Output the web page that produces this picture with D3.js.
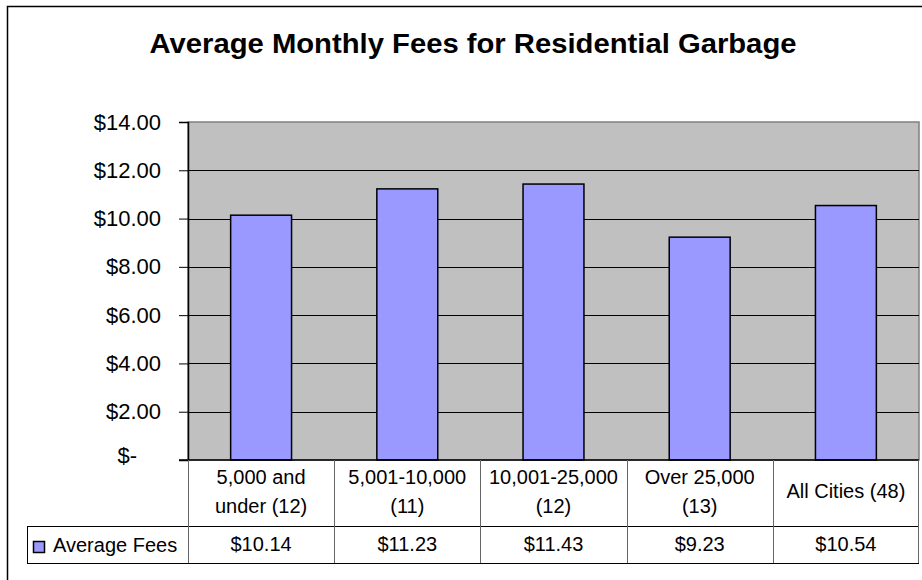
<!DOCTYPE html>
<html>
<head>
<meta charset="utf-8">
<script src="https://cdn.jsdelivr.net/npm/d3@7"></script>
<style>
  body { margin: 0; background: #fff; }
  svg { font-family: "Liberation Sans", Arial, sans-serif; }
</style>
</head>
<body>
<svg id="chart" width="922" height="580"></svg>
<script>
const categories = [
  ["5,000 and", "under (12)"],
  ["5,001-10,000", "(11)"],
  ["10,001-25,000", "(12)"],
  ["Over 25,000", "(13)"],
  ["All Cities (48)"]
];
const fees = [10.14, 11.23, 11.43, 9.23, 10.54];
const yTicks = [0, 2, 4, 6, 8, 10, 12, 14];
const seriesName = "Average Fees";

const svg = d3.select("#chart");
const plot = { left: 188, right: 919, top: 122, bottom: 460 };
const row1Bottom = 526, row2Bottom = 563, legendLeft = 27;

// outer chart border (runs off the right and bottom of the picture)
svg.append("rect")
  .attr("x", 7.5).attr("y", 6.5)
  .attr("width", 940).attr("height", 600)
  .attr("fill", "#fff")
  .attr("stroke", "#000")
  .attr("stroke-width", 1.5);

svg.append("text")
  .attr("x", 473).attr("y", 53)
  .attr("text-anchor", "middle")
  .attr("font-size", 28)
  .attr("font-weight", "bold")
  .attr("textLength", 647)
  .attr("lengthAdjust", "spacingAndGlyphs")
  .text("Average Monthly Fees for Residential Garbage");

const x = d3.scaleBand()
  .domain(d3.range(categories.length))
  .range([plot.left, plot.right])
  .paddingInner(1.4 / 2.4)
  .paddingOuter(0.7 / 2.4);

const xCell = d3.scaleBand()
  .domain(d3.range(categories.length))
  .range([plot.left, plot.right]);

const y = d3.scaleLinear()
  .domain([0, 14])
  .range([plot.bottom, plot.top]);

svg.append("rect")
  .attr("x", plot.left).attr("y", plot.top)
  .attr("width", plot.right - plot.left)
  .attr("height", plot.bottom - plot.top)
  .attr("fill", "#c0c0c0")
  .attr("stroke", "#808080")
  .attr("stroke-width", 1.5);

// gridlines
svg.append("g")
  .selectAll("line")
  .data(yTicks.filter(d => d > 0 && d < 14))
  .join("line")
  .attr("x1", plot.left).attr("x2", plot.right)
  .attr("y1", d => Math.round(y(d)) + 0.5)
  .attr("y2", d => Math.round(y(d)) + 0.5)
  .attr("stroke", "#000")
  .attr("stroke-width", 1);

// bars
svg.append("g")
  .selectAll("rect")
  .data(fees)
  .join("rect")
  .attr("x", (d, i) => x(i))
  .attr("y", d => y(d))
  .attr("width", x.bandwidth())
  .attr("height", d => plot.bottom - y(d))
  .attr("fill", "#9999ff")
  .attr("stroke", "#000")
  .attr("stroke-width", 1.5);

// y axis
const yAxis = svg.append("g")
  .attr("transform", `translate(${plot.left},0)`)
  .call(d3.axisLeft(y)
    .tickValues(yTicks)
    .tickSize(9)
    .tickPadding(18)
    .tickFormat(d => d === 0 ? "$-" : "$" + d3.format(".2f")(d)));
yAxis.select(".domain").attr("stroke", "#000").attr("stroke-width", 1.5);
yAxis.selectAll(".tick line").attr("stroke", "#000");
yAxis.selectAll(".tick text")
  .attr("font-size", 22)
  .attr("font-family", "Liberation Sans, Arial, sans-serif")
  .attr("fill", "#000")
  .attr("dx", d => d === 0 ? -24 : 0)
  .attr("dy", d => d === 0 ? "0.1em" : "0.32em");

// data table
const table = svg.append("g");
table.append("line")
  .attr("x1", 179).attr("x2", plot.right)
  .attr("y1", plot.bottom).attr("y2", plot.bottom)
  .attr("stroke", "#000").attr("stroke-width", 1.5);
table.append("line")
  .attr("x1", legendLeft).attr("x2", plot.right)
  .attr("y1", row1Bottom + 0.5).attr("y2", row1Bottom + 0.5)
  .attr("stroke", "#000");
table.append("line")
  .attr("x1", legendLeft).attr("x2", plot.right)
  .attr("y1", row2Bottom + 0.5).attr("y2", row2Bottom + 0.5)
  .attr("stroke", "#000");
table.append("line")
  .attr("x1", legendLeft + 0.5).attr("x2", legendLeft + 0.5)
  .attr("y1", row1Bottom).attr("y2", row2Bottom)
  .attr("stroke", "#000");
table.selectAll(".vline")
  .data(d3.range(categories.length + 1))
  .join("line")
  .attr("class", "vline")
  .attr("x1", i => i < categories.length ? Math.round(xCell(i)) + 0.5 : plot.right - 0.5)
  .attr("x2", i => i < categories.length ? Math.round(xCell(i)) + 0.5 : plot.right - 0.5)
  .attr("y1", plot.bottom).attr("y2", row2Bottom)
  .attr("stroke", "#666");

const catText = table.selectAll(".cat")
  .data(categories)
  .join("text")
  .attr("class", "cat")
  .attr("text-anchor", "middle")
  .attr("font-size", 20)
  .attr("x", (d, i) => xCell(i) + xCell.bandwidth() / 2)
  .attr("y", d => d.length === 2 ? 484 : 498);
catText.selectAll("tspan")
  .data(d => d)
  .join("tspan")
  .attr("x", function() { return this.parentNode.getAttribute("x"); })
  .attr("dy", (d, i) => i === 0 ? 0 : 29)
  .text(d => d);

table.selectAll(".val")
  .data(fees)
  .join("text")
  .attr("class", "val")
  .attr("text-anchor", "middle")
  .attr("font-size", 20)
  .attr("x", (d, i) => xCell(i) + xCell.bandwidth() / 2)
  .attr("y", 551)
  .text(d => "$" + d3.format(".2f")(d));

table.append("rect")
  .attr("x", 33.5).attr("y", 541.5)
  .attr("width", 11).attr("height", 11)
  .attr("fill", "#9999ff")
  .attr("stroke", "#000")
  .attr("stroke-width", 1.5);
table.append("text")
  .attr("x", 53).attr("y", 552)
  .attr("font-size", 20)
  .text(seriesName);
</script>
</body>
</html>
